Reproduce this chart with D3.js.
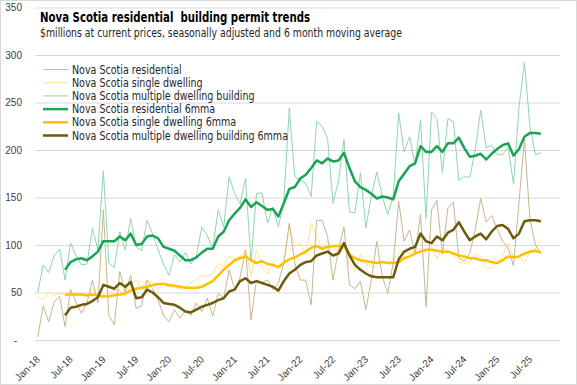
<!DOCTYPE html>
<html>
<head>
<meta charset="utf-8">
<script src="https://cdn.jsdelivr.net/npm/d3@7/dist/d3.min.js"></script>
<style>
  body { margin: 0; background: #fff; }
  svg { display: block; font-family: "Liberation Sans Narrow", "DejaVu Sans Condensed", Roboto, sans-serif; }
</style>
</head>
<body>
<div id="chart"></div>
<script>
const width = 577
const height = 385

// categories: Jan-18 .. Dec-25 (data runs to Sep-25)
const monthNames = ["Jan", "Feb", "Mar", "Apr", "May", "Jun", "Jul", "Aug", "Sep", "Oct", "Nov", "Dec"]
const years = ["18", "19", "20", "21", "22", "23", "24", "25"]
const categories = years.flatMap(y => monthNames.map(m => m + "-" + y))
const tickLabels = categories.filter(c => c.startsWith("Jan") || c.startsWith("Jul"))

const yTicks = [0, 50, 100, 150, 200, 250, 300, 350]

// $millions, monthly
const residential = [
  50, 79, 71, 89, 96, 63, 102, 89, 79, 80, 118, 95, 178, 81, 76, 114, 95, 128,
  98, 94, 126, 112, 95, 80, 68, 90, 82, 92, 80, 88, 119, 110, 97, 137, 119, 172, 154,
  143, 170, 82, 154, 155, 123, 140, 119, 146, 244, 172, 168, 165, 151, 230, 225, 212, 144, 168,
  211, 135, 134, 176, 118, 151, 177, 151, 132, 151, 239, 198, 214, 184, 232, 128, 240, 233, 176,
  233, 230, 168, 172, 171, 200, 242, 202, 205, 195, 195, 203, 164, 245, 292, 225, 195, 197
]
const single = [
  46, 42, 50, 47, 49, 47, 52, 47, 48, 45, 54, 46, 44, 50, 52, 52, 46, 58,
  63, 54, 63, 60, 53, 60, 56, 56, 53, 56, 60, 64, 68, 67, 70, 81, 77, 88, 86,
  88, 95, 68, 95, 77, 70, 81, 74, 81, 121, 98, 102, 89, 123, 109, 95, 104, 98, 91,
  100, 80, 72, 90, 80, 78, 76, 82, 80, 84, 93, 93, 91, 95, 96, 93, 98, 86, 96,
  95, 89, 82, 81, 82, 91, 88, 76, 76, 81, 89, 102, 86, 88, 81, 93, 96, 104
]
const multiple = [
  3, 36, 19, 40, 46, 14, 53, 40, 28, 39, 63, 39, 137, 26, 16, 72, 50, 68,
  33, 36, 63, 54, 42, 26, 19, 32, 23, 31, 26, 39, 30, 44, 25, 49, 44, 74, 53,
  66, 95, 21, 63, 60, 63, 53, 60, 81, 123, 81, 63, 63, 37, 126, 126, 109, 63, 95,
  119, 58, 54, 62, 32, 63, 104, 67, 49, 81, 146, 104, 116, 91, 132, 35, 137, 147, 90,
  139, 145, 86, 83, 91, 116, 149, 124, 131, 117, 104, 97, 78, 145, 211, 127, 100, 92
]
// 6 month moving averages start in Jun-18
const residential6 = [
  null, null, null, null, null,
  74, 82, 85, 86, 84, 88, 93, 104, 104, 104, 109, 105, 112,
  100, 101, 109, 110, 107, 98, 96, 94, 89, 84, 84, 87, 92, 96, 96, 109, 114, 126, 133,
  139, 148, 140, 145, 141, 137, 138, 130, 144, 159, 161, 170, 174, 181, 189, 186, 191, 188, 189,
  197, 181, 167, 161, 158, 154, 149, 151, 150, 148, 167, 175, 183, 186, 204, 198, 198, 204, 198,
  207, 207, 213, 202, 193, 194, 196, 190, 196, 201, 205, 207, 194, 201, 214, 218, 218, 217
]
const single6 = [
  null, null, null, null, null,
  48, 48, 48, 48, 47, 48, 47, 46, 46, 47, 48, 49, 52,
  54, 55, 56, 58, 59, 59, 58, 57, 56, 55, 55, 55, 56, 59, 62, 68, 74, 79, 84,
  86, 88, 84, 81, 83, 80, 79, 77, 81, 85, 87, 90, 93, 97, 99, 96, 98, 99, 99,
  99, 90, 86, 84, 83, 82, 81, 82, 81, 81, 82, 86, 88, 91, 93, 95, 95, 94, 93,
  93, 91, 89, 88, 86, 86, 84, 84, 82, 81, 84, 88, 87, 88, 91, 93, 94, 92
]
const multiple6 = [
  null, null, null, null, null,
  26, 34, 35, 37, 38, 41, 45, 58, 56, 54, 60, 56, 61,
  44, 45, 53, 50, 45, 39, 38, 37, 34, 30, 29, 32, 35, 37, 39, 42, 44, 51, 53,
  62, 65, 60, 62, 60, 58, 56, 52, 62, 70, 74, 79, 82, 83, 89, 91, 93, 89, 91,
  102, 89, 79, 74, 70, 67, 66, 66, 66, 66, 85, 93, 96, 98, 112, 104, 102, 109, 105,
  113, 116, 124, 114, 105, 109, 112, 106, 114, 120, 121, 117, 107, 112, 125, 126, 126, 125
]

const series = [
  { name: "Nova Scotia residential", values: residential, color: "#8ed6b1", width: 1 },
  { name: "Nova Scotia single dwelling", values: single, color: "#ffe38f", width: 1 },
  { name: "Nova Scotia multiple dwelling building", values: multiple, color: "#c7b690", width: 1 },
  { name: "Nova Scotia residential 6mma", values: residential6, color: "#1ba455", width: 2.5 },
  { name: "Nova Scotia single dwelling 6mma", values: single6, color: "#ffc000", width: 2.5 },
  { name: "Nova Scotia multiple dwelling building 6mma", values: multiple6, color: "#6f5a0c", width: 2.5 }
]

const svg = d3.select("#chart")
  .append("svg")
  .attr("width", width)
  .attr("height", height)

svg.append("rect")
  .attr("x", 0.5).attr("y", 0.5)
  .attr("width", width - 1).attr("height", height - 1)
  .attr("fill", "#fff")
  .attr("stroke", "#d9d9d9")

const x = d3.scaleBand().domain(categories).range([35, 560])
const y = d3.scaleLinear().domain([0, 350]).range([340, 7.5])
const cx = c => x(c) + x.bandwidth() / 2

// squeeze text to a narrow look (the original uses a narrow face)
function narrow(sel, k) {
  sel.each(function () {
    const w = this.getComputedTextLength()
    d3.select(this).attr("textLength", w * k).attr("lengthAdjust", "spacingAndGlyphs")
  })
}

// y axis + gridlines
const yAxis = svg.append("g")
  .attr("transform", "translate(35,0)")
  .call(d3.axisLeft(y)
    .tickValues(yTicks)
    .tickSize(-525)
    .tickPadding(13)
    .tickFormat(d => d === 0 ? "-" : d))
yAxis.select(".domain").remove()
yAxis.selectAll("line").attr("stroke", "#d9d9d9")
yAxis.selectAll("text")
  .attr("fill", "#404040")
  .style("font-size", "10px")
  .attr("dx", d => d === 0 ? -5 : 0)

// x axis labels, rotated
const xAxis = svg.append("g")
  .attr("transform", "translate(0,340)")
  .call(d3.axisBottom(x).tickValues(tickLabels).tickSize(0))
xAxis.select(".domain").remove()
xAxis.selectAll("text")
  .attr("x", 0).attr("y", 0).attr("dy", 0)
  .attr("transform", "translate(3,20) rotate(-45)")
  .style("text-anchor", "end")
  .attr("fill", "#404040")
  .style("font-size", "10px")

// lines
const line = d3.line()
  .defined(d => d.v != null)
  .x(d => cx(d.c))
  .y(d => y(d.v))

svg.append("g")
  .selectAll("path")
  .data(series)
  .enter()
  .append("path")
  .attr("d", s => line(s.values.map((v, i) => ({ c: categories[i], v }))))
  .attr("fill", "none")
  .attr("stroke", s => s.color)
  .attr("stroke-width", s => s.width)
  .attr("stroke-linejoin", "round")

// title
svg.append("text")
  .attr("x", 40).attr("y", 22)
  .style("font-size", "14.5px")
  .style("font-weight", "bold")
  .style("white-space", "pre")
  .attr("fill", "#000")
  .attr("textLength", 270)
  .attr("lengthAdjust", "spacingAndGlyphs")
  .text("Nova Scotia residential  building permit trends")

svg.append("text")
  .attr("x", 40).attr("y", 37)
  .style("font-size", "11.5px")
  .attr("fill", "#262626")
  .attr("textLength", 362)
  .attr("lengthAdjust", "spacingAndGlyphs")
  .text("$millions at current prices, seasonally adjusted and 6 month moving average")

// legend
const legend = svg.append("g")
  .selectAll("g")
  .data(series)
  .enter()
  .append("g")
  .attr("transform", (d, i) => `translate(43,${69.5 + i * 13.2})`)

legend.append("line")
  .attr("x1", 0).attr("x2", 25)
  .attr("stroke", d => d.color)
  .attr("stroke-width", d => d.width)

legend.append("text")
  .attr("x", 29).attr("dy", "0.35em")
  .style("font-size", "11.5px")
  .attr("fill", "#262626")
  .text(d => d.name)
  .call(narrow, 0.92)
</script>
</body>
</html>
